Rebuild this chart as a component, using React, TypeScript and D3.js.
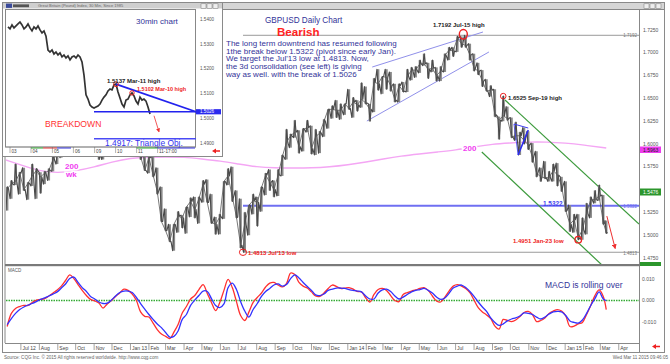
import React from 'react';
import * as d3 from 'd3';

// ---------- DATA ----------
// Weekly GBPUSD bars (week ending Fri Jun 8 2012 ... Mar 11 2015)
const weekHigh = [
  1.553, 1.56, 1.578, 1.569, 1.574, 1.558, 1.578, 1.573, 1.569, 1.57, 1.573, 1.591, 1.591, 1.6, 1.623, 1.631, 1.631, 1.62, 1.616, 1.618,
  1.613, 1.619, 1.603, 1.592, 1.603, 1.608, 1.617, 1.619, 1.631, 1.626, 1.638, 1.615, 1.612, 1.591, 1.588, 1.587, 1.574, 1.553, 1.529, 1.512,
  1.512, 1.526, 1.522, 1.531, 1.541, 1.542, 1.542, 1.56, 1.561, 1.545, 1.52, 1.523, 1.559, 1.573, 1.575, 1.549, 1.54, 1.525, 1.533, 1.545,
  1.542, 1.553, 1.568, 1.572, 1.56, 1.572, 1.588, 1.616, 1.611, 1.626, 1.615, 1.617, 1.626, 1.62, 1.616, 1.614, 1.627, 1.638, 1.642, 1.648,
  1.644, 1.644, 1.66, 1.651, 1.648, 1.667, 1.663, 1.644, 1.672, 1.682, 1.674, 1.682, 1.679, 1.666, 1.666, 1.668, 1.682, 1.684, 1.685, 1.692,
  1.699, 1.689, 1.692, 1.684, 1.685, 1.699, 1.706, 1.706, 1.718, 1.718, 1.7192, 1.71, 1.699, 1.689, 1.681, 1.671, 1.664, 1.66, 1.63, 1.6525,
  1.641, 1.629, 1.624, 1.613, 1.618, 1.614, 1.601, 1.592, 1.574, 1.581, 1.57, 1.578, 1.579, 1.564, 1.559, 1.533, 1.523, 1.523, 1.519, 1.535,
  1.542, 1.549, 1.555, 1.544, 1.516,
];
const weekLow = [
  1.527, 1.54, 1.555, 1.545, 1.549, 1.539, 1.554, 1.54, 1.546, 1.556, 1.56, 1.57, 1.578, 1.585, 1.597, 1.616, 1.614, 1.605, 1.598, 1.6,
  1.591, 1.601, 1.583, 1.583, 1.587, 1.599, 1.6, 1.603, 1.613, 1.608, 1.602, 1.596, 1.583, 1.571, 1.568, 1.564, 1.545, 1.515, 1.505, 1.493,
  1.483, 1.503, 1.508, 1.502, 1.52, 1.519, 1.513, 1.536, 1.536, 1.513, 1.501, 1.501, 1.518, 1.555, 1.537, 1.519, 1.486, 1.4813, 1.5, 1.523,
  1.51, 1.526, 1.544, 1.549, 1.542, 1.543, 1.565, 1.583, 1.596, 1.607, 1.59, 1.592, 1.613, 1.589, 1.588, 1.59, 1.608, 1.617, 1.628, 1.629,
  1.627, 1.632, 1.638, 1.629, 1.636, 1.64, 1.644, 1.625, 1.635, 1.659, 1.655, 1.66, 1.658, 1.646, 1.646, 1.657, 1.657, 1.67, 1.673, 1.678,
  1.686, 1.672, 1.679, 1.669, 1.669, 1.679, 1.692, 1.696, 1.701, 1.706, 1.706, 1.692, 1.68, 1.676, 1.663, 1.658, 1.652, 1.63, 1.6052, 1.625,
  1.626, 1.607, 1.604, 1.588, 1.6, 1.594, 1.58, 1.564, 1.559, 1.562, 1.559, 1.559, 1.554, 1.548, 1.526, 1.504, 1.503, 1.4951, 1.495, 1.501,
  1.519, 1.535, 1.538, 1.512, 1.502,
];
const weekClose = [
  1.551, 1.556, 1.559, 1.568, 1.55, 1.557, 1.565, 1.571, 1.564, 1.568, 1.571, 1.583, 1.588, 1.599, 1.622, 1.624, 1.615, 1.614, 1.605, 1.602,
  1.614, 1.601, 1.588, 1.588, 1.602, 1.603, 1.607, 1.617, 1.625, 1.611, 1.608, 1.608, 1.586, 1.571, 1.585, 1.566, 1.548, 1.515, 1.505, 1.493,
  1.512, 1.521, 1.519, 1.531, 1.537, 1.528, 1.54, 1.556, 1.536, 1.514, 1.512, 1.52, 1.559, 1.565, 1.542, 1.52, 1.489, 1.512, 1.533, 1.538,
  1.536, 1.552, 1.566, 1.558, 1.55, 1.566, 1.586, 1.602, 1.609, 1.613, 1.597, 1.616, 1.618, 1.595, 1.608, 1.612, 1.625, 1.638, 1.638, 1.637,
  1.637, 1.644, 1.639, 1.646, 1.643, 1.649, 1.645, 1.638, 1.668, 1.666, 1.674, 1.673, 1.664, 1.648, 1.664, 1.658, 1.674, 1.681, 1.681, 1.688,
  1.688, 1.682, 1.683, 1.675, 1.68, 1.697, 1.703, 1.702, 1.716, 1.71, 1.708, 1.698, 1.683, 1.68, 1.669, 1.658, 1.659, 1.632, 1.626, 1.631,
  1.628, 1.608, 1.609, 1.609, 1.604, 1.599, 1.586, 1.568, 1.564, 1.563, 1.563, 1.571, 1.566, 1.554, 1.527, 1.512, 1.517, 1.497, 1.506, 1.524,
  1.539, 1.539, 1.543, 1.514, 1.503,
];

// Weekly MACD (red) and signal (blue)
const macdLine = [
  -0.0121, -0.006, -0.0037, -0.0028, -0.0023, -0.0023, -0.0009, 0.0002, 0.0005, 0.0009, 0.0021, 0.0035, 0.0049, 0.0067, 0.0093, 0.0119, 0.0102, 0.0074, 0.0047, 0.0023,
  0.0005, -0.0002, -0.0012, -0.0035, -0.0016, 0.0, 0.0019, 0.0035, 0.0053, 0.0047, 0.003, 0.0, -0.0053, -0.0074, -0.0077, -0.0105, -0.0135, -0.0156, -0.0167, -0.0177,
  -0.0147, -0.0112, -0.0058, -0.0028, 0.0007, 0.0023, 0.0051, 0.0074, 0.0033, -0.0009, -0.0047, -0.0009, 0.0047, 0.0098, 0.006, -0.0005, -0.007, -0.0093, -0.0053, -0.0009,
  0.0014, 0.0035, 0.0063, 0.0081, 0.0084, 0.0072, 0.0063, 0.0079, 0.0128, 0.0121, 0.0084, 0.0067, 0.0058, 0.004, 0.0021, 0.0019, 0.0035, 0.0056, 0.0072, 0.0065,
  0.0056, 0.0058, 0.006, 0.0053, 0.0042, 0.004, 0.0012, -0.0007, 0.0028, 0.0051, 0.0056, 0.0047, 0.0023, 0.0, -0.0005, 0.0028, 0.0037, 0.0044, 0.0049, 0.0056,
  0.006, 0.0047, 0.0021, -0.0002, -0.0007, 0.0016, 0.0044, 0.0067, 0.0074, 0.0067, 0.0056, 0.0037, 0.0002, -0.0033, -0.0053, -0.0067, -0.0084, -0.0119, -0.0133, -0.0088,
  -0.0093, -0.0098, -0.0091, -0.0074, -0.0056, -0.0051, -0.0065, -0.0098, -0.0093, -0.0081, -0.006, -0.0049, -0.0042, -0.0049, -0.0072, -0.0121, -0.0119, -0.0109, -0.0102, -0.0065,
  -0.0023, 0.0023, 0.0049, 0.0019, -0.0042,
];
const signalLine = [
  -0.0112, -0.0084, -0.006, -0.0042, -0.003, -0.0021, -0.0014, -0.0005, 0.0005, 0.0012, 0.0021, 0.003, 0.004, 0.0058, 0.0077, 0.0102, 0.0109, 0.0084, 0.006, 0.0042,
  0.0019, 0.0007, -0.0007, -0.0014, -0.0012, 0.0002, 0.0021, 0.0037, 0.0044, 0.0044, 0.0037, 0.0014, -0.0014, -0.004, -0.0065, -0.0088, -0.0109, -0.0126, -0.0149, -0.017,
  -0.0167, -0.0142, -0.0088, -0.0065, -0.0023, 0.0002, 0.0023, 0.0044, 0.0042, 0.0009, -0.0023, -0.0033, -0.0016, 0.006, 0.0081, 0.0051, -0.0005, -0.0049, -0.0077, -0.0042,
  -0.0014, 0.0019, 0.0042, 0.0056, 0.0072, 0.0077, 0.0067, 0.0074, 0.0102, 0.0119, 0.0105, 0.0084, 0.0065, 0.0047, 0.0026, 0.0023, 0.003, 0.0047, 0.0053, 0.0058,
  0.0058, 0.0056, 0.0051, 0.0047, 0.0044, 0.004, 0.0021, 0.0007, 0.0007, 0.0035, 0.0049, 0.0053, 0.0042, 0.0021, 0.0007, 0.0016, 0.0028, 0.004, 0.0047, 0.0051,
  0.0056, 0.0047, 0.0035, 0.0016, 0.0005, 0.0012, 0.0033, 0.0058, 0.0067, 0.0072, 0.006, 0.0042, 0.0019, -0.0007, -0.003, -0.0051, -0.0081, -0.0102, -0.0116, -0.0109,
  -0.0095, -0.0086, -0.0081, -0.0072, -0.0058, -0.006, -0.0065, -0.0077, -0.0086, -0.0077, -0.0063, -0.0053, -0.0051, -0.0053, -0.007, -0.0095, -0.0102, -0.0105, -0.0091, -0.006,
  -0.0023, 0.0009, 0.004, 0.0007, 0.0,
];

// 200-week moving average (monthly readings)
const maDates = [
  '2012-06-06', '2012-07-01', '2012-08-01', '2012-09-01', '2012-10-01', '2012-11-01', '2012-12-01', '2013-01-01', '2013-02-01', '2013-03-01',
  '2013-04-01', '2013-05-01', '2013-06-01', '2013-07-01', '2013-08-01', '2013-09-01', '2013-10-01', '2013-11-01', '2013-12-01', '2014-01-01',
  '2014-02-01', '2014-03-01', '2014-04-01', '2014-05-01', '2014-06-01', '2014-07-01', '2014-08-01', '2014-09-01', '2014-10-01', '2014-11-01',
  '2014-12-01', '2015-01-01', '2015-02-01', '2015-03-11',
];
const maValues = [
  1.5825, 1.577, 1.5704, 1.5682, 1.5704, 1.5748, 1.5803, 1.5847, 1.5857, 1.5857,
  1.5857, 1.5836, 1.5814, 1.5781, 1.5748, 1.5737, 1.5737, 1.5737, 1.5748, 1.577,
  1.5803, 1.5836, 1.5869, 1.5891, 1.5913, 1.5934, 1.5967, 1.6, 1.6011, 1.6022,
  1.6022, 1.6011, 1.5989, 1.5956,
];

// 30-minute inset (Mar 3 - Mar 11)
const insetPrice = [
  1.5368, 1.536, 1.5376, 1.5364, 1.5372, 1.538, 1.5388, 1.5376, 1.536, 1.5368, 1.538, 1.5364, 1.5352, 1.5368, 1.536, 1.5372, 1.5356, 1.5344, 1.5352, 1.5331,
  1.5275, 1.5267, 1.5275, 1.5259, 1.5267, 1.5255, 1.5263, 1.5247, 1.5255, 1.5243, 1.5251, 1.5235, 1.5247, 1.5251, 1.5243, 1.5255, 1.5247, 1.5227, 1.5174, 1.5094,
  1.5077, 1.5053, 1.5045, 1.5041, 1.5045, 1.5049, 1.5057, 1.5073, 1.5085, 1.5094, 1.511, 1.5118, 1.5114, 1.5134, 1.5138, 1.5106, 1.5081, 1.5057, 1.5045, 1.5073,
  1.5077, 1.5094, 1.5102, 1.509, 1.5069, 1.5057, 1.5085, 1.5073, 1.5077, 1.5069, 1.5045, 1.5017,
];
const insetDays = ['03', '04', '05', '06', '09', '10', '11', '11-17:00'];
const insetDayIndex = [1, 11.5, 22.2, 32.7, 43.3, 53.8, 64.3, 74.8];
const insetTicks = [1.54, 1.53, 1.52, 1.51, 1.5, 1.49];

const priceTicks = [1.725, 1.7, 1.675, 1.65, 1.625, 1.6, 1.575, 1.525, 1.5, 1.475];
const macdTicks = [0.01, 0, -0.01];

const FONT = '"Liberation Sans", Arial, Helvetica, sans-serif';
const monthNames = ['Jan', 'Feb', 'Mar', 'Apr', 'May', 'Jun', 'Jul', 'Aug', 'Sep', 'Oct', 'Nov', 'Dec'];

function WinIcons({ x, y }: { x: number; y: number }) {
  return (
    <g>
      {[0, 6, 12].map((o) => (
        <rect key={o} x={x + o} y={y} width={5} height={4.5} fill="#eee" stroke="#777" strokeWidth={0.5} />
      ))}
    </g>
  );
}

export default function App() {
  const x = d3.scaleTime().domain([new Date(2012, 5, 6), new Date(2015, 4, 5)]).range([6, 639]);
  const y = d3.scaleLinear().domain([1.475, 1.725]).range([258, 30]);
  const ym = d3.scaleLinear().domain([-0.01, 0.01]).range([322, 279]);

  const firstWeek = new Date(2012, 5, 8);
  const lastDate = new Date(2015, 2, 11);
  const dates = weekClose.map((_, i) => (i === weekClose.length - 1 ? lastDate : d3.timeDay.offset(firstWeek, 7 * i)));

  // zigzag through each week's high and low (order follows the week's direction)
  const zig: [number, number][] = [];
  weekClose.forEach((c, i) => {
    const up = i === 0 ? true : c >= weekClose[i - 1];
    const xi = x(dates[i]);
    const a = up ? weekLow[i] : weekHigh[i];
    const b = up ? weekHigh[i] : weekLow[i];
    zig.push([xi - 1.3, y(a)]);
    zig.push([xi + 0.2, y(b)]);
    zig.push([xi + 1.3, y(c)]);
  });
  const zigPath = d3.line()(zig) || '';
  const closePath = d3.line<number>().x((_, i) => x(dates[i])).y((d) => y(d))(weekClose) || '';

  const maPath = d3
    .line<number>()
    .x((_, i) => x(new Date(maDates[i])))
    .y((d) => y(d))
    .curve(d3.curveBasis)(maValues) || '';
  const macdPath = d3.line<number>().x((_, i) => x(dates[i])).y((d) => ym(d)).curve(d3.curveCatmullRom)(macdLine) || '';
  const sigPath = d3.line<number>().x((_, i) => x(dates[i])).y((d) => ym(d)).curve(d3.curveCatmullRom)(signalLine) || '';

  const months = d3.timeMonth.range(new Date(2012, 6, 1), new Date(2015, 4, 1));

  const D = (s: string) => new Date(s + 'T00:00:00');
  const P = (dt: string, p: number): [number, number] => [x(D(dt)), y(p)];
  const seg = (a: [number, number], b: [number, number], props: any, key: string) => (
    <line key={key} x1={a[0]} y1={a[1]} x2={b[0]} y2={b[1]} {...props} />
  );

  // inset scales
  const ix = d3.scaleLinear().domain([0, 71]).range([8, 150]);
  const iy = d3.scaleLinear().domain([1.49, 1.54]).range([143, 19]);
  const insetPath = d3.line<number>().x((_, i) => ix(i)).y((d) => iy(d))(insetPrice) || '';

  const lowDate = '2013-07-09';
  const rightEdge = '2015-05-05';

  return (
    <svg
      width={670}
      height={364}
      style={{ position: 'absolute', left: 0, top: 0, fontFamily: FONT, background: '#fff' }}
    >
      <defs>
        <clipPath id="pclip">
          <rect x={6} y={10} width={633} height={254} />
        </clipPath>
        <clipPath id="mclip">
          <rect x={6} y={267} width={633} height={76} />
        </clipPath>
        <marker id="arr" viewBox="0 0 6 6" refX={5} refY={3} markerWidth={5} markerHeight={5} orient="auto">
          <path d="M0,0 L6,3 L0,6 z" fill="#ee3030" />
        </marker>
      </defs>
      <rect x={0} y={0} width={670} height={364} fill="#fff" />
      {/* window frame */}
      <rect x={2.5} y={2.5} width={662} height={350} fill="#fff" stroke="#8a8a8a" strokeWidth={1} />
      <rect x={3} y={3} width={661} height={6} fill="#d6d6d6" />
      <WinIcons x={644} y={3.8} />
      <line x1={5} y1={9} x2={5} y2={343} stroke="#888" strokeWidth={1} />
      <line x1={639.5} y1={9} x2={639.5} y2={352} stroke="#888" strokeWidth={1} />
      <line x1={5} y1={9.5} x2={664} y2={9.5} stroke="#888" strokeWidth={1} />
      <line x1={5} y1={343.5} x2={639} y2={343.5} stroke="#888" strokeWidth={1} />

      {/* price panel */}
      <g clipPath="url(#pclip)">
        {/* 200 wk MA */}
        <path d={maPath} fill="none" stroke="#f4a6f4" strokeWidth={1.4} />
        {/* horizontal levels */}
        {seg(P(lowDate, 1.7192), P(rightEdge, 1.7192), { stroke: '#9a9a9a', strokeWidth: 1 }, 'h1')}
        {seg(P(lowDate, 1.4813), P(rightEdge, 1.4813), { stroke: '#9a9a9a', strokeWidth: 1 }, 'h2')}
        {seg(P(lowDate, 1.5322), P(rightEdge, 1.5322), { stroke: '#6f6ff2', strokeWidth: 2 }, 'h3')}
        {/* rising channel */}
        {seg(P('2014-02-11', 1.6844), P('2014-08-16', 1.7228), { stroke: '#9090ea', strokeWidth: 1 }, 'c1')}
        {seg(P('2014-02-02', 1.6252), P('2014-08-26', 1.7009), { stroke: '#9090ea', strokeWidth: 1 }, 'c2')}
        {/* falling channel */}
        {seg(P('2014-09-22', 1.6483), P(rightEdge, 1.5123), { stroke: '#3c9a3c', strokeWidth: 1.2 }, 'g1')}
        {seg(P('2014-08-14', 1.5912), P('2015-03-10', 1.4635), { stroke: '#3c9a3c', strokeWidth: 1.2 }, 'g2')}
        {/* price */}
        {weekClose.map((_, i) => (
          <line
            key={'b' + i}
            x1={x(dates[i])}
            x2={x(dates[i])}
            y1={y(weekHigh[i])}
            y2={y(weekLow[i])}
            stroke="#8a8a8a"
            strokeWidth={2.4}
          />
        ))}
        <path d={zigPath} fill="none" stroke="#4a4a4a" strokeWidth={1.1} strokeLinejoin="round" />
        <path d={closePath} fill="none" stroke="#555" strokeWidth={0.8} />
        {/* small consolidation triangle */}
        {seg(P('2014-10-07', 1.6219), P('2014-10-31', 1.6175), { stroke: '#3b3bf0', strokeWidth: 1 }, 't1')}
        {seg(P('2014-10-07', 1.6219), P('2014-10-14', 1.588), { stroke: '#3b3bf0', strokeWidth: 0.8 }, 't2')}
        {seg(P('2014-10-14', 1.588), P('2014-10-31', 1.6153), { stroke: '#2b2bf0', strokeWidth: 1.6 }, 't3')}
        {/* circles */}
        <ellipse cx={x(D(lowDate))} cy={y(1.4813)} rx={3.6} ry={3.2} fill="none" stroke="#ee2222" strokeWidth={1} />
        <ellipse cx={x(D('2014-07-14'))} cy={y(1.7192) - 1} rx={4} ry={4.8} fill="none" stroke="#ee2222" strokeWidth={1.4} />
        <circle cx={x(D('2014-09-19'))} cy={y(1.6525)} r={2.8} fill="none" stroke="#ee2222" strokeWidth={1} />
        <circle cx={x(D('2015-01-23'))} cy={y(1.4951)} r={3.3} fill="none" stroke="#ee2222" strokeWidth={1.3} />
        {/* red projection arrow */}
        {seg(P('2015-03-12', 1.521), P('2015-03-26', 1.4855), { stroke: '#ee3030', strokeWidth: 1, markerEnd: 'url(#arr)' }, 'ra')}
      </g>

      {/* level tags inside plot */}
      <text x={637} y={37} textAnchor="end" fontSize={4.5} fill="#777">1.7192</text>
      <text x={637} y={208} textAnchor="end" fontSize={4.5} fill="#6f6ff2">1.5322</text>
      <text x={637} y={255} textAnchor="end" fontSize={4.5} fill="#777">1.4813</text>

      {/* MA labels */}
      <g fontWeight="bold" fill="#f040f0" fontSize={8} stroke="#fff" strokeWidth={3} paintOrder="stroke">
        <text x={65} y={168.5}>200</text>
        <text x={66} y={177}>wk</text>
        <text x={463} y={151}>200</text>
      </g>

      {/* annotation texts */}
      <g fontWeight="bold" fontSize={6}>
        <text x={433} y={27} fill="#222">1.7192 Jul-15 high</text>
        <text x={508} y={99.5} fill="#222">1.6525 Sep-19 high</text>
        <text x={513} y={242.5} fill="#ee2222">1.4951 Jan-23 low</text>
        <text x={248} y={255} fill="#ee2222">1.4813 Jul'13 low</text>
        <text x={543} y={205.5} fill="#4444ee" fontSize={6.4}>1.5322</text>
      </g>
      <text x={265} y={22.8} fontSize={8.2} fill="#333399">GBPUSD Daily Chart</text>
      <text x={277} y={36} fontSize={11.6} fontWeight="bold" fill="#ff2222">Bearish</text>
      <g fontSize={8} fill="#333399">
        <text x={226} y={46}>The long term downtrend has resumed following</text>
        <text x={226} y={53.7}>1the break below 1.5322 (pivot since early Jan).</text>
        <text x={226} y={61.3}>We target the Jul'13 low at 1.4813. Now,</text>
        <text x={226} y={69}>the 3d consolidation (see left) is giving</text>
        <text x={226} y={76.5}>way as well. with the break of 1.5026</text>
      </g>

      {/* panel separator */}
      <rect x={5} y={264} width={635} height={2.2} fill="#7a7a7a" />

      {/* price axis */}
      {priceTicks.map((t) => (
        <text key={t} x={643} y={y(t) + 1.6} fontSize={5} fill="#555">
          {t.toFixed(4)}
        </text>
      ))}
      <rect x={640} y={146.5} width={21} height={6.5} fill="#ee3cee" />
      <text x={643} y={151.7} fontSize={5} fill="#222">1.5963</text>
      <rect x={640} y={188.5} width={21} height={7} fill="#2c962c" />
      <text x={643} y={194} fontSize={5} fill="#fff">1.5476</text>
      <rect x={640} y={262} width={21} height={4} fill="#2c962c" />

      {/* MACD panel */}
      <text x={8} y={272} fontSize={4.5} fill="#555">MACD</text>
      <line x1={6} x2={639} y1={ym(0)} y2={ym(0)} stroke="#33aa33" strokeWidth={1.3} strokeDasharray="1.5,1" />
      <g clipPath="url(#mclip)">
        <path d={macdPath} fill="none" stroke="#ff3030" strokeWidth={1.3} />
        <path d={sigPath} fill="none" stroke="#3232ff" strokeWidth={1.3} />
      </g>
      <text x={545} y={288} fontSize={8.5} fill="#333399">MACD is rolling over</text>
      {macdTicks.map((t) => (
        <text key={t} x={642} y={ym(t) + 1.8} fontSize={5} fill="#555">
          {t < 0 ? '-' + Math.abs(t).toFixed(3) : t.toFixed(3)}
        </text>
      ))}

      {/* x axis */}
      {months.map((m, i) => {
        const xm = x(m);
        const mo = m.getMonth();
        const label = mo === 0 || i === 0 ? `${monthNames[mo]} ${String(m.getFullYear()).slice(2)}` : monthNames[mo];
        return (
          <g key={i}>
            <line x1={xm} x2={xm} y1={344} y2={350} stroke="#666" strokeWidth={0.6} />
            <text x={xm + 1.5} y={349.5} fontSize={5} fill="#444">
              {label}
            </text>
          </g>
        );
      })}
      <path d="M652,346.5 L656,344 L656,345.7 L660,345.7 L660,347.3 L656,347.3 L656,349 Z" fill="#ee2020" />

      <text x={4} y={359} fontSize={4.6} fill="#666">
        Source: CQG Inc. © 2015 All rights reserved worldwide. http://www.cqg.com
      </text>
      <text x={668} y={358.5} textAnchor="end" fontSize={4.6} fill="#666">
        Wed Mar 11 2015 09:46:05
      </text>

      {/* ---------- INSET 30 min ---------- */}
      <g>
        <rect x={2.5} y={2.5} width={220} height={154} fill="#fff" stroke="#8a8a8a" strokeWidth={1} />
        <rect x={3} y={3} width={219} height={5.5} fill="#cfcfcf" />
        <rect x={6} y={3.6} width={6} height={4.3} fill="#3a4a9a" />
        <rect x={13} y={4.4} width={16} height={2.8} fill="#555" />
        <text x={38} y={7.3} fontSize={4} fill="#666">Great Britain (Pound) Index, 30 Min, Since 1985</text>
        <WinIcons x={201} y={3.8} />
        <rect x={5.5} y={9.5} width={190} height={137.5} fill="#fff" stroke="#888" strokeWidth={1} />
        <path d={insetPath} fill="none" stroke="#333" strokeWidth={1.7} />
        {/* triangle lines */}
        <line x1={ix(54)} y1={iy(1.5137)} x2={196} y2={iy(1.5026)} stroke="#2222ee" strokeWidth={1.8} />
        <line x1={ix(43)} y1={iy(1.5026)} x2={196} y2={iy(1.5026)} stroke="#2222ee" strokeWidth={1.6} />
        <line x1={ix(43)} y1={iy(1.4917)} x2={196} y2={iy(1.4917)} stroke="#4a4af5" strokeWidth={1.6} />
        <circle cx={ix(54)} cy={iy(1.5137)} r={2.4} fill="none" stroke="#ee2222" strokeWidth={1} />
        <circle cx={ix(62)} cy={iy(1.5102)} r={2.2} fill="none" stroke="#ee2222" strokeWidth={1} />
        <line x1={ix(73)} y1={iy(1.501)} x2={ix(75.5)} y2={iy(1.4945)} stroke="#ee3030" strokeWidth={0.8} markerEnd="url(#arr)" />
        <text x={136} y={24} fontSize={8} fill="#333399">30min chart</text>
        <text x={107} y={82.5} fontSize={6} fontWeight="bold" fill="#222">1.5137 Mar-11 high</text>
        <text x={137} y={91} fontSize={5.5} fontWeight="bold" fill="#ee2222">1.5102 Mar-10 high</text>
        <text x={45} y={127} fontSize={8.6} fill="#ff3333">BREAKDOWN</text>
        <text x={105} y={145.5} fontSize={8.4} fill="#3333ee">1.4917: Triangle Obj.</text>
        {/* inset price axis */}
        {insetTicks.map((t) => (
          <text key={t} x={200} y={iy(t) + 1.8} fontSize={4.6} fill="#555">
            {t.toFixed(4)}
          </text>
        ))}
        <rect x={196} y={iy(1.5026) - 2.6} width={25} height={5.2} fill="#2a2aee" />
        <text x={200} y={iy(1.5026) + 1.7} fontSize={4.6} fill="#fff">1.5026</text>
        {/* inset x axis */}
        <line x1={5.5} y1={147} x2={196} y2={147} stroke="#888" strokeWidth={0.6} />
        <line x1={ix(11.5)} y1={148} x2={ix(17.5)} y2={148} stroke="#33aa33" strokeWidth={1} />
        <line x1={ix(17.5)} y1={148} x2={ix(24.5)} y2={148} stroke="#dd3333" strokeWidth={1} />
        <line x1={ix(24.5)} y1={148} x2={ix(31.5)} y2={148} stroke="#3333dd" strokeWidth={1} />
        <line x1={ix(64.3)} y1={148} x2={ix(74.8)} y2={148} stroke="#33aa33" strokeWidth={1} />
        <line x1={ix(74.8)} y1={148} x2={195} y2={148} stroke="#3333dd" strokeWidth={1} />
        {insetDays.map((d, i) => (
          <g key={d}>
            <line x1={ix(insetDayIndex[i])} x2={ix(insetDayIndex[i])} y1={147} y2={153} stroke="#666" strokeWidth={0.5} />
            <text x={ix(insetDayIndex[i]) + 1.5} y={152.5} fontSize={4.6} fill="#444">
              {d}
            </text>
          </g>
        ))}
        <path d="M212,151 L216,148.5 L216,150.2 L220,150.2 L220,151.8 L216,151.8 L216,153.5 Z" fill="#ee2020" />
      </g>
    </svg>
  );
}
